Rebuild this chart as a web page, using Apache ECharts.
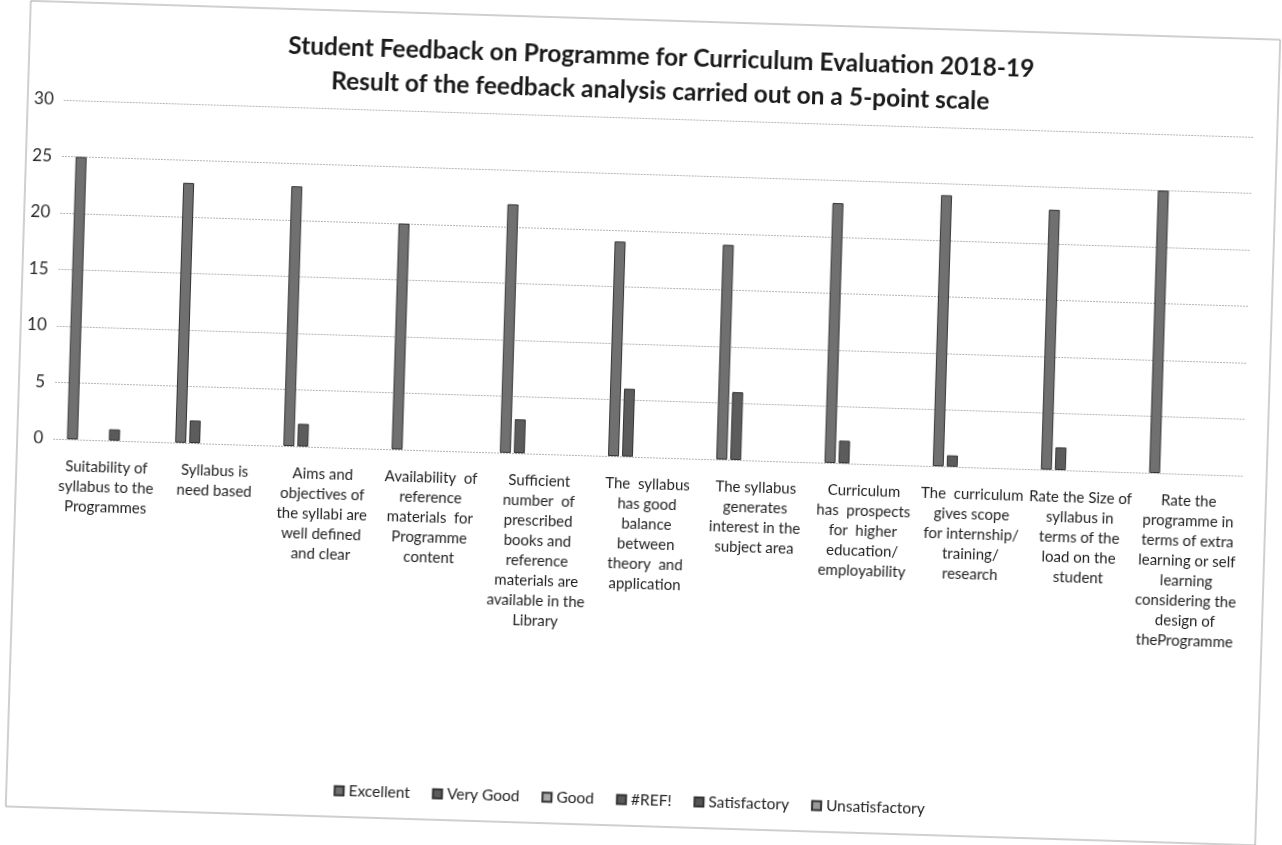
<!DOCTYPE html>
<html>
<head>
<meta charset="utf-8">
<script src="https://cdn.jsdelivr.net/npm/echarts@6/dist/echarts.min.js"></script>
<style>
  html, body { margin: 0; padding: 0; background: #ffffff; overflow: hidden; }
  #chart { width: 1282px; height: 845px; transform: rotate(1.78deg); transform-origin: 641px 422px; }
</style>
</head>
<body>
<div id="chart"></div>
<script>
const categories = [
  "Suitability of\nsyllabus to the\nProgrammes",
  "Syllabus is\nneed based",
  "Aims and\nobjectives of\nthe syllabi are\nwell defined\nand clear",
  "Availability  of\nreference\nmaterials  for\nProgramme\ncontent",
  "Sufficient\nnumber  of\nprescribed\nbooks and\nreference\nmaterials are\navailable in the\nLibrary",
  "The  syllabus\nhas good\nbalance\nbetween\ntheory  and\napplication",
  "The syllabus\ngenerates\ninterest in the\nsubject area",
  "Curriculum\nhas  prospects\nfor  higher\neducation/\nemployability",
  "The  curriculum\ngives scope\nfor internship/\ntraining/\nresearch",
  "Rate the Size of\nsyllabus in\nterms of the\nload on the\nstudent",
  "Rate the\nprogramme in\nterms of extra\nlearning or self\nlearning\nconsidering the\ndesign of\ntheProgramme"
];
const seriesNames = ["Excellent", "Very Good", "Good", "#REF!", "Satisfactory", "Unsatisfactory"];
// null = empty cell (no bar drawn)
const excellent      = [25, 23, 23, 20, 22, 19, 19, 23, 24, 23, 25];
const veryGood       = [null, 2, 2, null, 3, 6, 6, 2, 1, 2, null];
const good           = [null, null, null, null, null, null, null, null, null, null, null];
const refErr         = [1, null, null, null, null, null, null, null, null, null, null];
const satisfactory   = [null, null, null, null, null, null, null, null, null, null, null];
const unsatisfactory = [null, null, null, null, null, null, null, null, null, null, null];
const yTicks = [0, 5, 10, 15, 20, 25, 30];

const seriesData = [excellent, veryGood, good, refErr, satisfactory, unsatisfactory];
const seriesColors = ["#707070", "#5c5c5c", "#a9a9a9", "#5a5a5a", "#555555", "#9a9a9a"];

const FONT = "Lato, 'Noto Sans', sans-serif";
const chart = echarts.init(document.getElementById('chart'));

chart.setOption({
  backgroundColor: '#ffffff',
  animation: false,
  title: {
    text: "Student Feedback on Programme for Curriculum Evaluation 2018-19\nResult of the feedback analysis carried out on a 5-point scale",
    left: 645,
    top: 35,
    textAlign: 'center',
    textStyle: { fontFamily: FONT, fontSize: 24.5, fontWeight: 'bold', color: '#1a1a1a', lineHeight: 34 }
  },
  legend: {
    data: seriesNames,
    left: 'center',
    top: 787,
    icon: 'rect',
    itemWidth: 9,
    itemHeight: 9,
    itemGap: 22,
    textStyle: { fontFamily: FONT, fontSize: 15.5, color: '#222' }
  },
  grid: { left: 54, right: 37, top: 118, bottom: 388, containLabel: false },
  xAxis: {
    type: 'category',
    data: categories,
    axisLine: { show: false },
    axisTick: { show: false },
    axisLabel: {
      interval: 0, margin: 17, fontFamily: FONT, fontSize: 15, lineHeight: 20,
      color: '#1f1f1f', align: 'center'
    }
  },
  yAxis: {
    type: 'value',
    min: yTicks[0],
    max: yTicks[yTicks.length - 1],
    interval: yTicks[1] - yTicks[0],
    axisLine: { show: false },
    axisTick: { show: false },
    axisLabel: { margin: 10, fontFamily: FONT, fontSize: 17, color: '#2a2a2a' },
    splitLine: { lineStyle: { color: '#b5b5b5', type: [2, 1], width: 1 } }
  },
  series: seriesNames.map((name, i) => ({
    name: name,
    type: 'bar',
    data: seriesData[i],
    barWidth: 11,
    barGap: '27%',
    itemStyle: { color: seriesColors[i], borderColor: '#333333', borderWidth: 1 }
  })),
  graphic: [{
    type: 'rect',
    shape: { x: 18, y: 20, width: 1250, height: 806 },
    style: { fill: 'none', stroke: '#a0a0a0', lineWidth: 1 },
    silent: true
  }]
});
</script>
</body>
</html>
